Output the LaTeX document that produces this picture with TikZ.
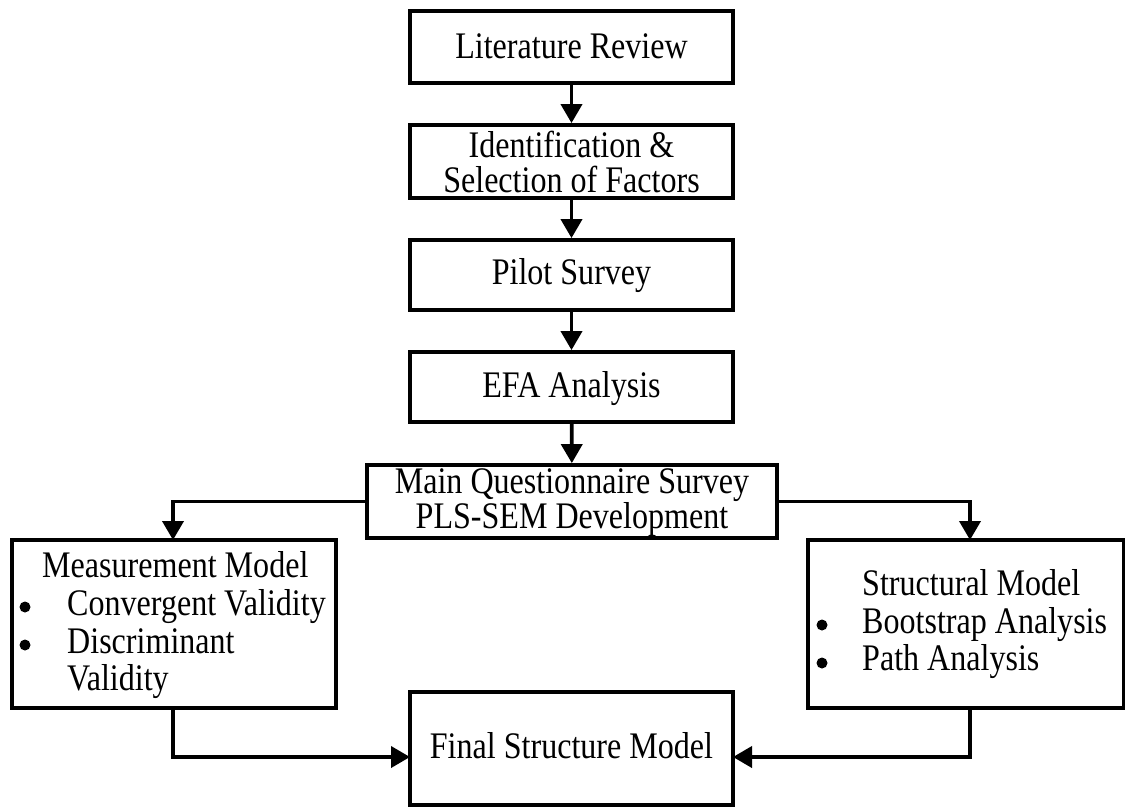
\documentclass[tikz,border=0pt]{standalone}
\usepackage{fontspec}
\setmainfont[FakeStretch=0.855]{Liberation Serif}
\usetikzlibrary{arrows.meta,shadows}
\begin{document}
\begin{tikzpicture}[x=1pt,y=-1pt,
  box/.style={draw=black,line width=3.8pt,fill=white,inner sep=0pt,
    minimum width=#1,
    drop shadow={shadow xshift=2pt,shadow yshift=-2pt,opacity=0.25,fill=blue!20!gray!40}},
  box/.default=323pt,
  txt/.style={font=\fontsize{37.5}{35}\selectfont,anchor=base,inner sep=0pt},
  ltxt/.style={font=\fontsize{37.5}{35}\selectfont,anchor=base west,inner sep=0pt},
  bul/.style={circle,fill=black,inner sep=0pt,minimum size=11pt},
  conn/.style={line width=3.8pt,-{Triangle[width=21pt,length=19pt]}}
]
\useasboundingbox (0,0) rectangle (1125,807);
% top chain
\node[box,minimum height=72pt] (lit) at (571.5,47) {};
\node[txt] (litT) at (571.5,58) {Literature Review};
\node[box,minimum height=73pt] (ident) at (571.5,161.5) {};
\node[txt] (identT1) at (571.5,157) {Identification \&};
\node[txt] (identT2) at (571.5,192) {Selection of Factors};
\node[box,minimum height=70pt] (pilot) at (571.5,275) {};
\node[txt] (pilotT) at (571.5,284) {Pilot Survey};
\node[box,minimum height=70pt] (efa) at (571.5,387) {};
\node[txt] (efaT) at (571.5,397) {EFA Analysis};
\node[box=410pt,minimum height=73pt] (main) at (572,501.5) {};
\node[txt] (mainT1) at (572,493) {Main Questionnaire Survey};
\node[txt] (mainT2) at (572,528) {PLS-SEM Development};
% side boxes
\node[box=324pt,minimum height=168pt] (meas) at (174,624) {};
\node[ltxt] (m1) at (42,577) {Measurement Model};
\node[bul] (m2b) at (25,607) {};
\node[ltxt] (m2) at (67,615) {Convergent Validity};
\node[bul] (m3b) at (25,645) {};
\node[ltxt] (m3) at (67,653) {Discriminant};
\node[ltxt] (m4) at (67,690) {Validity};
\node[box=316pt,minimum height=168pt] (struct) at (966,624) {};
\node[ltxt] (s1) at (862,595) {Structural Model};
\node[bul] (s2b) at (822,625) {};
\node[ltxt] (s2) at (862,633) {Bootstrap Analysis};
\node[bul] (s3b) at (822,663) {};
\node[ltxt] (s3) at (862,670) {Path Analysis};
% final
\node[box,minimum height=113pt] (final) at (571.5,748.5) {};
\node[txt] (finalT) at (571.5,758) {Final Structure Model};
% connectors
\draw[conn] (lit) -- (ident);
\draw[conn] (ident) -- (pilot);
\draw[conn] (pilot) -- (efa);
\draw[conn] (efa) -- (main);
\coordinate (mtop) at (173,540);
\coordinate (stop) at (970,540);
\coordinate (mbot) at (173,708);
\coordinate (sbot) at (970,708);
\coordinate (fl) at (410,757);
\coordinate (fr) at (733,757);
\draw[conn] (main.west) -| (mtop);
\draw[conn] (main.east) -| (stop);
\draw[conn] (mbot) |- (fl);
\draw[conn] (sbot) |- (fr);
\end{tikzpicture}
\end{document}
